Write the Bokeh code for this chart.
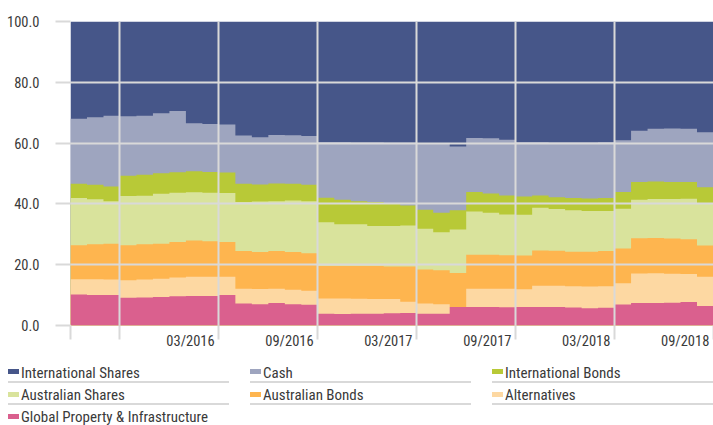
import html
import numpy as np
from bokeh.plotting import figure
from bokeh.layouts import column
from bokeh.models import Range1d, FixedTicker, NumeralTickFormatter, Div
from bokeh.embed import file_html
from bokeh.resources import INLINE

# ---------------- data (percent allocation per month) ----------------
months = ["07/2015", "08/2015", "09/2015", "10/2015", "11/2015", "12/2015",
          "01/2016", "02/2016", "03/2016", "04/2016", "05/2016", "06/2016",
          "07/2016", "08/2016", "09/2016", "10/2016", "11/2016", "12/2016",
          "01/2017", "02/2017", "03/2017", "04/2017", "05/2017", "06/2017",
          "07/2017", "08/2017", "09/2017", "10/2017", "11/2017", "12/2017",
          "01/2018", "02/2018", "03/2018", "04/2018", "05/2018", "06/2018",
          "07/2018", "08/2018", "09/2018"]

global_property = [10.2, 10.0, 10.0, 9.1, 9.2, 9.4, 9.6, 9.7, 9.7, 10.0,
                   7.2, 7.0, 7.4, 7.0, 6.8, 3.9, 3.8, 3.9, 3.9, 4.0,
                   4.1, 3.9, 3.9, 6.1, 6.1, 6.1, 6.0, 6.1, 6.1, 6.1,
                   5.9, 5.7, 5.8, 6.9, 7.4, 7.4, 7.5, 7.7, 6.4]
alternatives = [5.0, 5.2, 5.1, 5.8, 5.9, 6.0, 6.2, 6.3, 6.3, 6.0,
                4.9, 5.0, 4.7, 4.8, 4.6, 5.0, 5.1, 4.9, 4.8, 4.7,
                3.7, 3.3, 3.1, 0.0, 6.0, 6.0, 6.1, 5.8, 7.0, 7.0,
                7.0, 7.1, 7.1, 7.0, 9.7, 9.8, 9.5, 9.2, 9.6]
australian_bonds = [11.2, 11.5, 11.8, 11.5, 11.6, 11.5, 11.7, 12.0, 11.7, 11.5,
                    12.4, 12.2, 12.4, 12.4, 12.4, 10.7, 10.7, 10.8, 10.9, 10.7,
                    11.6, 11.2, 11.2, 11.2, 11.2, 11.2, 11.0, 11.1, 11.6, 11.5,
                    11.4, 11.5, 11.6, 11.4, 11.6, 11.6, 11.6, 11.5, 10.3]
australian_shares = [15.5, 14.8, 14.0, 16.2, 16.0, 16.4, 16.2, 15.8, 16.0, 16.1,
                     16.1, 16.6, 16.4, 16.9, 17.1, 14.4, 13.7, 13.7, 13.1, 13.3,
                     13.5, 13.4, 12.5, 14.3, 14.2, 13.8, 13.4, 13.4, 14.0, 13.7,
                     13.6, 13.4, 13.2, 13.1, 12.7, 12.8, 13.0, 13.3, 13.7]
international_bonds = [4.7, 4.8, 4.8, 6.7, 6.9, 6.8, 6.7, 6.9, 6.8, 6.7,
                       6.0, 5.6, 5.8, 5.5, 5.4, 8.0, 8.1, 7.6, 7.9, 7.5,
                       6.6, 6.3, 6.4, 6.3, 6.4, 6.3, 6.3, 6.0, 4.1, 3.9,
                       4.0, 4.1, 4.2, 5.5, 5.8, 5.8, 5.6, 5.5, 5.5]
cash = [21.4, 22.2, 23.3, 19.5, 19.4, 19.7, 20.2, 15.8, 15.8, 15.8,
        15.9, 15.5, 16.0, 16.0, 16.0, 18.4, 19.0, 19.4, 19.7, 20.0,
        20.7, 21.9, 22.6, 21.0, 17.8, 18.2, 18.3, 18.0, 17.6, 18.1,
        18.4, 18.5, 18.5, 17.0, 16.9, 17.3, 17.6, 17.5, 18.1]
international_shares = [32.0, 31.5, 31.0, 31.2, 31.0, 30.2, 29.4, 33.5, 33.7, 33.9,
                        37.5, 38.1, 37.3, 37.4, 37.7, 39.6, 39.6, 39.7, 39.7, 39.8,
                        39.8, 40.0, 40.3, 41.1, 38.3, 38.4, 38.9, 39.6, 39.6, 39.7,
                        39.7, 39.7, 39.6, 39.1, 35.9, 35.3, 35.2, 35.3, 36.4]

# stacked bottom -> top
series_names = ["Global Property & Infrastructure", "Alternatives", "Australian Bonds",
                "Australian Shares", "International Bonds", "Cash", "International Shares"]
series_values = [global_property, alternatives, australian_bonds, australian_shares,
                 international_bonds, cash, international_shares]
series_colors = ["#da608e", "#fdd8a2", "#feb54f", "#d9e39c", "#b8c937", "#9ea5bf", "#465689"]

# legend order (row-major, 3 columns)
legend_names = ["International Shares", "Cash", "International Bonds",
                "Australian Shares", "Australian Bonds", "Alternatives",
                "Global Property & Infrastructure"]

tick_labels = ["03/2016", "09/2016", "03/2017", "09/2017", "03/2018", "09/2018"]
y_ticks = [0, 20, 40, 60, 80, 100]

FONT = "Roboto Condensed"
FS = "14.5px"
TXT = "#3a3a3a"
GRID = "#d9d9d9"

n = len(months)
# step coordinates: each month occupies [i, i+1]
xs = np.repeat(np.arange(n + 1), 2)[1:-1].astype(float)
cum = np.cumsum(np.array(series_values, dtype=float), axis=0)

p = figure(frame_width=643, frame_height=304, min_border_left=70, min_border_right=0,
           min_border_top=21, min_border_bottom=27,
           x_range=Range1d(0, n), y_range=Range1d(0, 100),
           output_backend="svg", toolbar_location=None, tools="")
p.outline_line_color = None
p.background_fill_color = "white"

# draw from the topmost cumulative down so that no seams appear
for k in range(len(series_names) - 1, -1, -1):
    top = np.repeat(cum[k], 2)
    p.varea(x=xs, y1=np.zeros_like(top), y2=top, fill_color=series_colors[k])

# boundaries for grid / tick marks
boundaries = [0, 3] + [months.index(t) + 1 for t in tick_labels]
label_pos = [b - 1.72 for b in boundaries[2:]]

p.xgrid.ticker = FixedTicker(ticks=boundaries)
p.ygrid.ticker = FixedTicker(ticks=y_ticks)
for g in (p.xgrid[0], p.ygrid[0]):
    g.grid_line_color = GRID
    g.grid_line_width = 2
    g.level = "overlay"

xa = p.xaxis[0]
xa.ticker = FixedTicker(ticks=label_pos, minor_ticks=boundaries)
xa.major_label_overrides = {lp: t for lp, t in zip(label_pos, tick_labels)}
xa.axis_line_color = None
xa.major_tick_line_color = None
xa.major_tick_out = 0
xa.major_tick_in = 0
xa.minor_tick_line_color = GRID
xa.minor_tick_line_width = 2
xa.minor_tick_out = 14
xa.minor_tick_in = 0
xa.major_label_standoff = -7
xa.major_label_text_font = FONT
xa.major_label_text_font_size = FS
xa.major_label_text_color = TXT

ya = p.yaxis[0]
ya.ticker = FixedTicker(ticks=y_ticks)
ya.formatter = NumeralTickFormatter(format="0.0")
ya.axis_line_color = None
ya.major_tick_line_color = GRID
ya.major_tick_line_width = 2
ya.major_tick_out = 15
ya.major_tick_in = 0
ya.minor_tick_line_color = None
ya.major_label_standoff = 16
ya.major_label_text_font = FONT
ya.major_label_text_font_size = FS
ya.major_label_text_color = TXT

# ---------------- legend (HTML, three columns) ----------------
LH = 73
col_x = [8, 250, 492]
row_y = [20.5, 43, 65]
color_of = dict(zip(series_names, series_colors))
items = []
for idx, name in enumerate(legend_names):
    r, c = divmod(idx, 3)
    border = "border-bottom:2px solid %s;" % GRID if r < 2 else ""
    items.append(
        '<div style="position:absolute;left:%dpx;top:%.1fpx;width:221px;height:20px;'
        'line-height:20px;%swhite-space:nowrap;">'
        '<span style="display:inline-block;width:11px;height:5px;background:%s;'
        'vertical-align:middle;margin-right:2px;position:relative;top:-2px;"></span>%s</div>'
        % (col_x[c], row_y[r] - 10, border, color_of[name], html.escape(name)))
legend_html = ('<div style="position:relative;width:713px;height:%dpx;margin:0;padding:0;'
               'font-family:\'Roboto Condensed\';font-size:15px;color:%s;">%s</div>'
               % (LH, TXT, "".join(items)))
lg = Div(text=legend_html, width=713, height=LH, styles={"margin": "0", "padding": "0"})

layout = column(p, lg, spacing=0)
open("out.html", "w").write(file_html(layout, INLINE))
